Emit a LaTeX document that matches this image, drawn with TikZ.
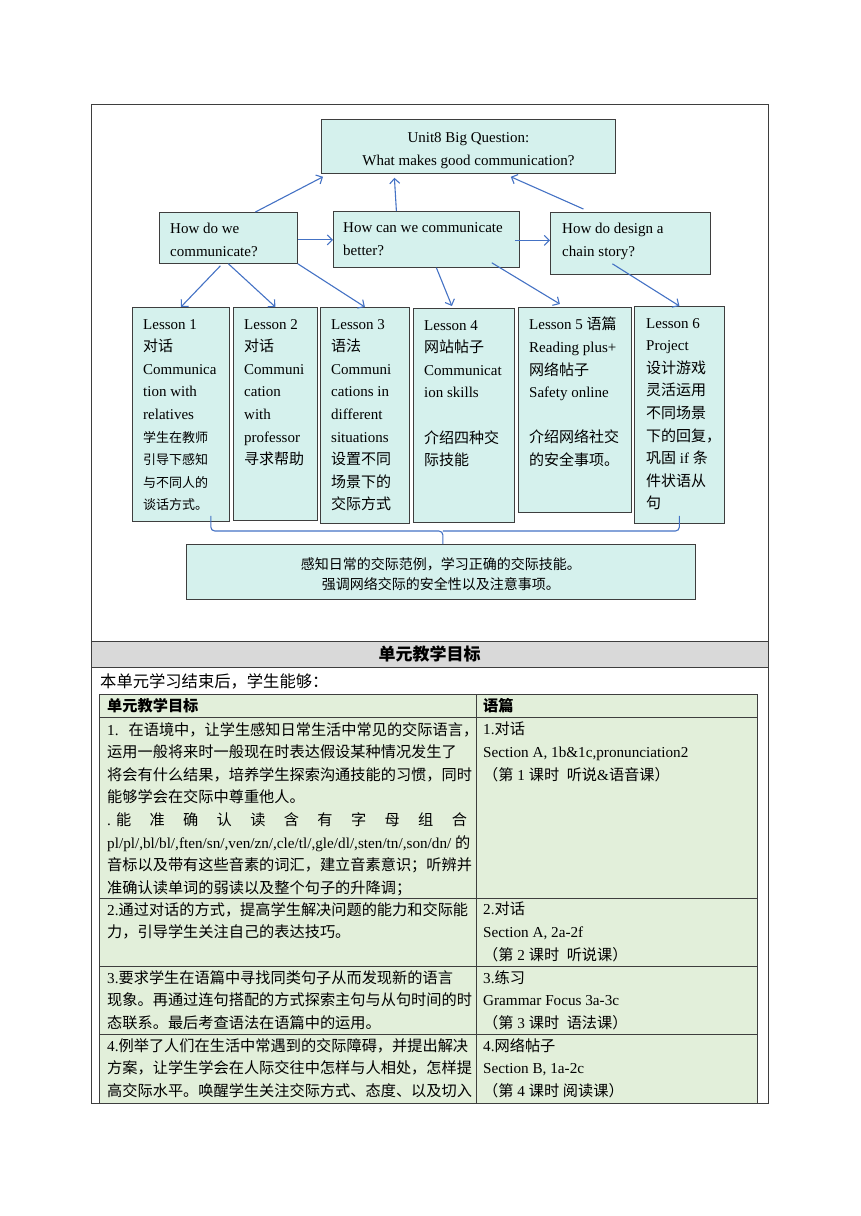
\documentclass[tikz,border=0pt]{standalone}
\usepackage{fontspec}
\setmainfont{Liberation Serif}
\newfontfamily\cjk{Noto Sans CJK SC}
\usetikzlibrary{arrows.meta, calc}
\usepackage{xcolor}
\definecolor{boxcyan}{RGB}{213,241,237}
\definecolor{rowgreen}{RGB}{226,239,218}
\definecolor{headgray}{RGB}{217,217,217}
\definecolor{arrblue}{RGB}{68,114,196}
\definecolor{edgegray}{RGB}{62,62,62}

% Chinese characters switch to the CJK font by themselves
\newcount\zhc
\newcommand{\zhrange}[2]{\zhc=#1\relax
  \loop\XeTeXcharclass\zhc=1 \advance\zhc by 1 \ifnum\zhc<#2\relax\repeat}
\zhrange{"3000}{"3040}
\zhrange{"4E00}{"A000}
\zhrange{"FF00}{"FFF0}
\XeTeXinterchartoks 0 1 = {\begingroup\cjk}
\XeTeXinterchartoks 4095 1 = {\begingroup\cjk}
\XeTeXinterchartoks 1 0 = {\endgroup}
\XeTeXinterchartoks 1 4095 = {\endgroup}

\newcommand{\qfont}{\fontsize{15}{23}\selectfont}
\newcommand{\lfont}{\fontsize{15}{22.6}\selectfont}
\newcommand{\sm}{\fontsize{13}{22.6}\selectfont}
\newcommand{\cellfont}{\fontsize{15.2}{22.6}\selectfont}

\begin{document}
\XeTeXinterchartokenstate=1
\begin{tikzpicture}[x=1pt, y=-1pt,
    qbox/.style={rectangle, draw=edgegray, fill=boxcyan, line width=0.8pt,
                 inner sep=0pt, anchor=north west},
    txt/.style={inner sep=0pt, align=left, anchor=north west},
    arr/.style={draw=arrblue, line width=1.1pt,
                -{Straight Barb[length=5pt,width=10pt]}},
    brace/.style={draw=arrblue, line width=1.1pt, rounded corners=4pt},
    tline/.style={draw=edgegray, line width=0.8pt}
  ]
  \useasboundingbox (0,0) rectangle (860,1216);

  % Frame of the page table
  \draw[tline] (91,104) rectangle (768,1103);
  \draw[tline, fill=headgray] (91,641) rectangle (768,667);

  % Big question
  \node[qbox, minimum width=294pt, minimum height=54pt] (bq) at (321,119) {};
  \node[align=center, inner sep=0pt, font=\fontsize{15}{22.5}\selectfont] (bqt)
        at ([yshift=-4pt]bq.center) {Unit8 Big Question:\\What makes good communication?};

  % Sub questions
  \node[qbox, minimum width=138pt, minimum height=51pt] (q1) at (159,212) {};
  \node[qbox, minimum width=186pt, minimum height=56pt] (q2) at (333,211) {};
  \node[qbox, minimum width=160pt, minimum height=62pt] (q3) at (550,212) {};
  \node[txt, font=\qfont] (q1t) at ([shift={(11pt,-11pt)}]q1.north west)
        {How do we\\communicate?};
  \node[txt, font=\qfont] (q2t) at ([shift={(10pt,-11pt)}]q2.north west)
        {How can we communicate\\better?};
  \node[txt, font=\qfont] (q3t) at ([shift={(12pt,-11pt)}]q3.north west)
        {How do design a\\chain story?};

  % Lessons
  \node[qbox, minimum width=97pt, minimum height=214pt] (l1) at (132,307) {};
  \node[qbox, minimum width=84pt, minimum height=213pt] (l2) at (233,307) {};
  \node[qbox, minimum width=89pt, minimum height=216pt] (l3) at (320,307) {};
  \node[qbox, minimum width=101pt, minimum height=214pt] (l4) at (413,308) {};
  \node[qbox, minimum width=113pt, minimum height=205pt] (l5) at (518,307) {};
  \node[qbox, minimum width=90pt, minimum height=217pt] (l6) at (634,306) {};

  \node[txt, font=\lfont] (l1t) at ([shift={(11pt,-12pt)}]l1.north west)
        {Lesson 1\\对话\\Communica\\tion with\\relatives\\
         {\sm 学生在教师}\\{\sm 引导下感知}\\{\sm 与不同人的}\\{\sm 谈话方式。}};
  \node[txt, font=\lfont] (l2t) at ([shift={(11pt,-12pt)}]l2.north west)
        {Lesson 2\\对话\\Communi\\cation\\with\\professor\\寻求帮助};
  \node[txt, font=\lfont] (l3t) at ([shift={(11pt,-12pt)}]l3.north west)
        {Lesson 3\\语法\\Communi\\cations in\\different\\situations\\
         设置不同\\场景下的\\交际方式};
  \node[txt, font=\lfont] (l4t) at ([shift={(11pt,-12pt)}]l4.north west)
        {Lesson 4\\网站帖子\\Communicat\\ion skills\\[22.6pt]介绍四种交\\际技能};
  \node[txt, font=\lfont] (l5t) at ([shift={(11pt,-10pt)}]l5.north west)
        {Lesson 5 语篇\\Reading plus+\\网络帖子\\Safety online\\[22.6pt]
         介绍网络社交\\的安全事项。};
  \node[txt, font=\lfont] (l6t) at ([shift={(12pt,-12pt)}]l6.north west)
        {Lesson 6\\Project\\设计游戏\\灵活运用\\不同场景\\下的回复，\\
         巩固 if 条\\件状语从\\句};

  % Summary
  \node[qbox, minimum width=509pt, minimum height=55pt] (sum) at (186,544) {};
  \node[align=center, inner sep=0pt, font=\fontsize{14}{20}\selectfont] (sumt)
        at ([yshift=-2pt]sum.center)
        {感知日常的交际范例，学习正确的交际技能。\\强调网络交际的安全性以及注意事项。};

  % Arrows
  \draw[arr] ([xshift=27pt]q1.north) -- ([xshift=2pt,yshift=-3pt]bq.south west);
  \draw[arr] ([xshift=-30pt]q2.north) -- ([xshift=-74pt,yshift=-4pt]bq.south);
  \draw[arr] ([xshift=-47pt,yshift=3pt]q3.north) -- ([xshift=-105pt,yshift=-3pt]bq.south east);
  \draw[arr] ([yshift=-2pt]q1.east) -- ([yshift=-2pt]q1.east -| q2.west);
  \draw[arr] ([xshift=-5pt,yshift=-1pt]q2.east) -- ([yshift=-1pt]q2.east -| q3.west);
  \draw[arr] ([xshift=-8pt,yshift=-2pt]q1.south) -- (l1.north);
  \draw[arr] (q1.south) -- (l2.north);
  \draw[arr] (q1.south east) -- (l3.north);
  \draw[arr] ([xshift=10pt]q2.south) -- ([xshift=-12pt,yshift=2pt]l4.north);
  \draw[arr] ([xshift=-28pt,yshift=5pt]q2.south east) -- ([xshift=-15pt,yshift=3pt]l5.north);
  \draw[arr] ([xshift=-18pt,yshift=11pt]q3.south) -- (l6.north);

  % Brace
  \coordinate (bm) at ([xshift=2pt]sum.north |- 0,531);
  \draw[brace] ([xshift=-19pt,yshift=6pt]l1.south east) |- (bm) -- ([xshift=2pt]sum.north);
  \draw[brace] ([yshift=8pt]l6.south) |- (bm);

  % Teaching goals
  \node[font=\fontsize{17}{20}\selectfont\bfseries] (head) at (429.5,654) {单元教学目标};
  \node[txt, font=\fontsize{16.3}{20}\selectfont] (intro) at (100,673)
        {本单元学习结束后，学生能够：};

  \fill[rowgreen] (99,694) rectangle (757,1103);
  \foreach \y in {694,717,898,966,1034,1103}
    \draw[tline] (99,\y) -- (757,\y);
  \foreach \x in {99,476,757}
    \draw[tline] (\x,694) -- (\x,1103);

  \node[txt, font=\cellfont\bfseries] (h1) at (107,698) {单元教学目标};
  \node[txt, font=\cellfont\bfseries] (h2) at (483,698) {语篇};

  \node[txt, font=\cellfont] (g1) at (107,722)
        {1.\hspace{10pt}在语境中，让学生感知日常生活中常见的交际语言，\\
         运用一般将来时一般现在时表达假设某种情况发生了\\
         将会有什么结果，培养学生探索沟通技能的习惯，同时\\
         能够学会在交际中尊重他人。\\
         .\hspace{5pt}\makebox[351pt][s]{能 准 确 认 读 含 有 字 母 组 合}\\
         pl/pl/,bl/bl/,ften/sn/,ven/zn/,cle/tl/,gle/dl/,sten/tn/,son/dn/ 的\\
         音标以及带有这些音素的词汇，建立音素意识；听辨并\\
         准确认读单词的弱读以及整个句子的升降调；};
  \node[txt, font=\cellfont] (p1) at (483,722)
        {1.对话\\Section A, 1b\&1c,pronunciation2\\（第 1 课时\ \ 听说{\&}语音课）};

  \node[txt, font=\cellfont] (g2) at (107,902)
        {2.通过对话的方式，提高学生解决问题的能力和交际能\\
         力，引导学生关注自己的表达技巧。};
  \node[txt, font=\cellfont] (p2) at (483,902)
        {2.对话\\Section A, 2a-2f\\（第 2 课时\ \ 听说课）};

  \node[txt, font=\cellfont] (g3) at (107,970)
        {3.要求学生在语篇中寻找同类句子从而发现新的语言\\
         现象。再通过连句搭配的方式探索主句与从句时间的时\\
         态联系。最后考查语法在语篇中的运用。};
  \node[txt, font=\cellfont] (p3) at (483,970)
        {3.练习\\Grammar Focus 3a-3c\\（第 3 课时\ \ 语法课）};

  \node[txt, font=\cellfont] (g4) at (107,1038)
        {4.例举了人们在生活中常遇到的交际障碍，并提出解决\\
         方案，让学生学会在人际交往中怎样与人相处，怎样提\\
         高交际水平。唤醒学生关注交际方式、态度、以及切入};
  \node[txt, font=\cellfont] (p4) at (483,1038)
        {4.网络帖子\\Section B, 1a-2c\\（第 4 课时 阅读课）};
\end{tikzpicture}
\end{document}
